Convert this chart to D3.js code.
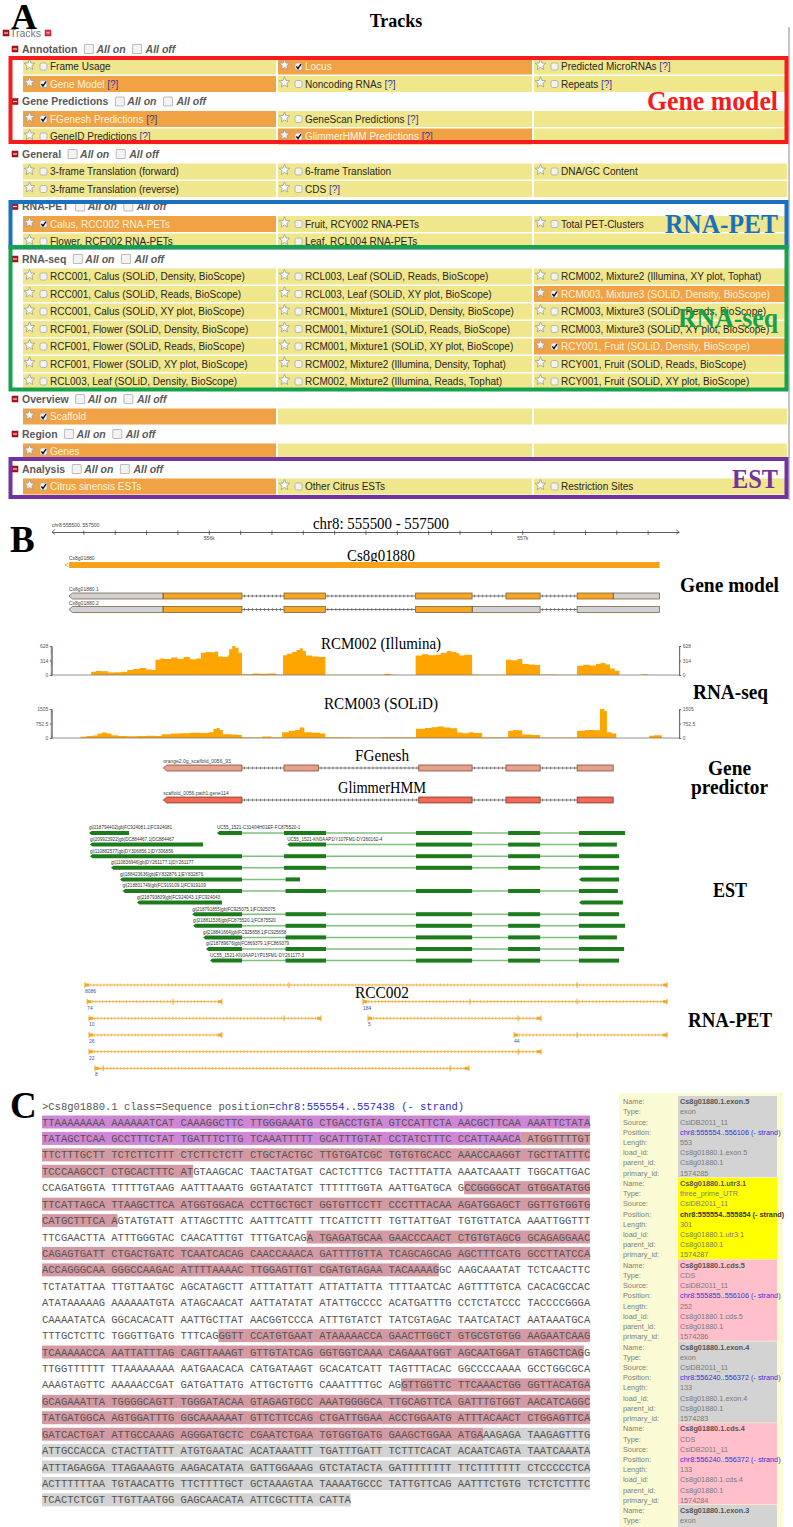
<!DOCTYPE html>
<html><head><meta charset="utf-8">
<script src="https://cdn.jsdelivr.net/npm/d3@7/dist/d3.min.js"></script>
<style>
html,body{margin:0;padding:0;background:#fff;}
svg{display:block;}
text{white-space:pre;}
</style></head>
<body>
<svg id="fig" width="793" height="1527" xmlns="http://www.w3.org/2000/svg"></svg>
<script>
// ================= DATA =================
// ---- Panel A : track selection table ----
const sectionNames = ["Annotation","Gene Predictions","General","RNA-PET","RNA-seq","Overview","Region","Analysis"];
// cell = [label, checked, hasHelp]; null = empty cell
const sectionRows = [
  [[["Frame Usage",0,0],["Locus",1,0],["Predicted MicroRNAs",0,1]],
   [["Gene Model",1,1],["Noncoding RNAs",0,1],["Repeats",0,1]]],
  [[["FGenesh Predictions",1,1],["GeneScan Predictions",0,1],null],
   [["GeneID Predictions",0,1],["GlimmerHMM Predictions",1,1],null]],
  [[["3-frame Translation (forward)",0,0],["6-frame Translation",0,0],["DNA/GC Content",0,0]],
   [["3-frame Translation (reverse)",0,0],["CDS",0,1],null]],
  [[["Calus, RCC002 RNA-PETs",1,0],["Fruit, RCY002 RNA-PETs",0,0],["Total PET-Clusters",0,0]],
   [["Flower, RCF002 RNA-PETs",0,0],["Leaf, RCL004 RNA-PETs",0,0],null]],
  [[["RCC001, Calus (SOLiD, Density, BioScope)",0,0],["RCL003, Leaf (SOLiD, Reads, BioScope)",0,0],["RCM002, Mixture2 (Illumina, XY plot, Tophat)",0,0]],
   [["RCC001, Calus (SOLiD, Reads, BioScope)",0,0],["RCL003, Leaf (SOLiD, XY plot, BioScope)",0,0],["RCM003, Mixture3 (SOLiD, Density, BioScope)",1,0]],
   [["RCC001, Calus (SOLiD, XY plot, BioScope)",0,0],["RCM001, Mixture1 (SOLiD, Density, BioScope)",0,0],["RCM003, Mixture3 (SOLiD, Reads, BioScope)",0,0]],
   [["RCF001, Flower (SOLiD, Density, BioScope)",0,0],["RCM001, Mixture1 (SOLiD, Reads, BioScope)",0,0],["RCM003, Mixture3 (SOLiD, XY plot, BioScope)",0,0]],
   [["RCF001, Flower (SOLiD, Reads, BioScope)",0,0],["RCM001, Mixture1 (SOLiD, XY plot, BioScope)",0,0],["RCY001, Fruit (SOLiD, Density, BioScope)",1,0]],
   [["RCF001, Flower (SOLiD, XY plot, BioScope)",0,0],["RCM002, Mixture2 (Illumina, Density, Tophat)",0,0],["RCY001, Fruit (SOLiD, Reads, BioScope)",0,0]],
   [["RCL003, Leaf (SOLiD, Density, BioScope)",0,0],["RCM002, Mixture2 (Illumina, Reads, Tophat)",0,0],["RCY001, Fruit (SOLiD, XY plot, BioScope)",0,0]]],
  [[["Scaffold",1,0],null,null]],
  [[["Genes",1,0],null,null]],
  [[["Citrus sinensis ESTs",1,0],["Other Citrus ESTs",0,0],["Restriction Sites",0,0]]]
];
const boxLabels = ["Gene model","RNA-PET","RNA-seq","EST"];
const boxColors = ["#f41c1c","#1b70bd","#16a24c","#7233a0"];
const boxSpans  = [[1,5],[9,11],[12,19],[24,25]];

// ---- Panel B : genome browser ----
const regionStart = 555500, regionEnd = 557500;
const rulerTicks  = [555600,555700,555800,555900,556000,556100,556200,556300,556400,556500,556600,556700,556800,556900,557000,557100,557200,557300,557400];
const rulerLabels = ["","","","","556k","","","","","","","","","","557k","","","",""];
const geneName = "Cs8g01880";
const geneSpan = [555554,557438];
const tx1Name = "Cs8g01880.1", tx2Name = "Cs8g01880.2";
const tx1Blocks = [[555554,555854],[555855,556106],[556240,556372],[556660,556840],[556948,557057],[557175,557290],[557291,557438]];
const tx1Kinds  = ["utr","cds","cds","cds","cds","cds","utr"];
const tx2Blocks = [[555554,555854],[555855,556106],[556240,556372],[556660,556840],[556841,557057],[557175,557438]];
const tx2Kinds  = ["utr","cds","cds","cds","utr","utr"];
const cov1Title = "RCM002 (Illumina)", cov1Max = 628, cov1Ticks = [0,314,628];
const cov1 = [[555500,0],[555625,70],[555640,85],[555660,80],[555680,55],[555700,60],[555720,70],[555740,110],[555760,130],[555780,150],[555800,120],[555820,110],[555830,330],[555845,360],[555860,345],[555880,380],[555900,350],[555920,390],[555940,340],[555960,360],[555975,480],[555990,500],[556005,490],[556020,510],[556030,400],[556045,390],[556060,420],[556065,560],[556075,628],[556085,590],[556095,480],[556106,15],[556140,30],[556160,25],[556190,30],[556215,10],[556237,430],[556250,460],[556265,500],[556280,540],[556290,580],[556300,520],[556310,420],[556330,400],[556350,390],[556372,5],[556390,5],[556560,25],[556580,5],[556600,0],[556660,420],[556680,450],[556700,430],[556720,440],[556740,480],[556760,520],[556775,500],[556790,470],[556800,420],[556815,440],[556840,10],[556860,5],[556900,5],[556948,330],[556965,320],[556985,345],[557000,240],[557020,230],[557040,215],[557057,10],[557070,10],[557110,8],[557150,5],[557175,200],[557195,220],[557215,205],[557235,240],[557250,260],[557265,230],[557280,140],[557295,90],[557310,0],[557380,15],[557400,0],[557500,0]];
const cov2Title = "RCM003 (SOLiD)", cov2Max = 1505, cov2Ticks = [0,752.5,1505];
const cov2 = [[555500,0],[555590,60],[555610,100],[555630,130],[555645,230],[555660,280],[555675,230],[555690,140],[555710,100],[555740,90],[555770,110],[555800,120],[555830,110],[555850,200],[555880,230],[555910,250],[555940,270],[555970,260],[556000,300],[556015,470],[556025,520],[556035,420],[556045,200],[556070,180],[556090,160],[556106,40],[556140,30],[556170,80],[556200,40],[556234,300],[556255,380],[556275,420],[556290,540],[556305,300],[556330,270],[556355,240],[556372,40],[556450,30],[556550,40],[556661,480],[556690,520],[556710,560],[556730,600],[556750,540],[556770,500],[556792,280],[556810,250],[556830,300],[556845,260],[556872,40],[556955,360],[556970,420],[556985,400],[557000,180],[557030,160],[557057,30],[557175,380],[557200,420],[557230,400],[557248,1505],[557262,1400],[557270,300],[557285,240],[557300,0],[557405,120],[557420,140],[557445,0],[557500,0]];
const fgTitle = "FGenesh", fgName = "orange2.0g_scaffold_0056_93";
const fgBlocks = [[555855,556106],[556240,556350],[556670,556840],[556948,557057],[557175,557290]];
const ghTitle = "GlimmerHMM", ghName = "scaffold_0056.path1.gene114";
const ghBlocks = [[555855,556106],[556670,556840],[556948,557057],[557175,557290]];
const estNames = ["gi|218794402|gb|FC924081.1|FC924081","UC55_1521-C31404H01EF-FC875520-1","gi|209923922|gb|DC884467.1|DC884467","UC55_1521-KN0AAP1IY107FM1-DY260162-4","gi|110882577|gb|DY306856.1|DY306856","gi|110836946|gb|DY261177.1|DY261177","gi|188423636|gb|EY832876.1|EY832876","","gi|218831749|gb|FC919109.1|FC919109","gi|218793809|gb|FC924043.1|FC924043","","gi|218791855|gb|FC925075.1|FC925075","gi|218811536|gb|FC875520.1|FC875520","gi|218841664|gb|FC925658.1|FC925658","gi|218789676|gb|FC869379.1|FC869379","UC55_1521-KN0AAP1YP15FM1-DY261177-3"];
const estRows  = [0,0,1,1,2,3,4,4,5,6,6,7,8,9,10,11];
const estBlocks = [
  [[555618,555746]],
  [[556026,556106],[556240,556374],[556661,556840],[556955,557057],[557181,557328]],
  [[555621,555982]],
  [[556250,556374],[556661,556840],[556955,557057],[557181,557302]],
  [[555621,556106],[556240,556374],[556661,556840],[556955,557057],[557181,557309]],
  [[555688,556106],[556240,556374],[556661,556840],[556955,557057],[557181,557309]],
  [[555717,556106],[556245,556291]],
  [[557181,557309]],
  [[555725,556106],[556245,556374],[556661,556840],[556955,557057],[557181,557305]],
  [[555771,556042]],
  [[557181,557321]],
  [[555947,556106],[556245,556374],[556661,556840],[556955,557057],[557181,557309]],
  [[555950,556106],[556245,556374],[556661,556840],[556955,557057],[557181,557328]],
  [[555982,556106],[556245,556374],[556661,556840],[556955,557057],[557181,557302]],
  [[555991,556106],[556245,556374],[556661,556840],[556955,557057],[557181,557325]],
  [[556004,556106],[556245,556374],[556661,556840],[556955,557057],[557181,557309]]
];
const petTitle = "RCC002";
const petCounts = ["8086","74","184","10","5","26","44","22","8"];
const petRows   = [0,1,1,2,2,3,3,4,5];
const petSpans  = [[555605,557462],[555612,556042],[556492,557462],[555618,556358],[556508,557060],[555618,556042],[556974,557462],[555618,557060],[555637,556830]];
const petMarks  = [[556256,557175],[555886],[556833,557175],[556240],[556987],[],[557175],[556987],[555663,556770]];
const sideLabelsB = ["Gene model","RNA-seq","Gene","predictor","EST","RNA-PET"];

// ---- Panel C : sequence and feature details ----
const seqHeader = ">Cs8g01880.1 class=Sequence position=";
const seqLink = "chr8:555554..557438 (- strand)";
const seqLines = [
"TTAAAAAAAA AAAAAATCAT CAAAGGCTTC TTGGGAAATG CTGACCTGTA GTCCATTCTA AACGCTTCAA AAATTCTATA",
"TATAGCTCAA GCCTTTCTAT TGATTTCTTG TCAAATTTTT GCATTTGTAT CCTATCTTTC CCATTAAACA ATGGTTTTGT",
"TTCTTTGCTT TCTCTTCTTT CTCTTCTCTT CTGCTACTGC TTGTGATCGC TGTGTGCACC AAACCAAGGT TGCTTATTTC",
"TCCCAAGCCT CTGCACTTTC ATGTAAGCAC TAACTATGAT CACTCTTTCG TACTTTATTA AAATCAAATT TGGCATTGAC",
"CCAGATGGTA TTTTTGTAAG AATTTAAATG GGTAATATCT TTTTTTGGTA AATTGATGCA GCCGGGGCAT GTGGATATGG",
"TTCATTAGCA TTAAGCTTCA ATGGTGGACA CCTTGCTGCT GGTGTTCCTT CCCTTTACAA AGATGGAGCT GGTTGTGGTG",
"CATGCTTTCA AGTATGTATT ATTAGCTTTC AATTTCATTT TTCATTCTTT TGTTATTGAT TGTGTTATCA AAATTGGTTT",
"TTCGAACTTA ATTTGGGTAC CAACATTTGT TTTGATCAGA TGAGATGCAA GAACCCAACT CTGTGTAGCG GCAGAGGAAC",
"CAGAGTGATT CTGACTGATC TCAATCACAG CAACCAAACA GATTTTGTTA TCAGCAGCAG AGCTTTCATG GCCTTATCCA",
"ACCAGGGCAA GGGCCAAGAC ATTTTAAAAC TTGGAGTTGT CGATGTAGAA TACAAAAGGC AAGCAAATAT TCTCAACTTC",
"TCTATATTAA TTGTTAATGC AGCATAGCTT ATTTATTATT ATTATTATTA TTTTAATCAC AGTTTTGTCA CACACGCCAC",
"ATATAAAAAG AAAAAATGTA ATAGCAACAT AATTATATAT ATATTGCCCC ACATGATTTG CCTCTATCCC TACCCCGGGA",
"CAAAATATCA GGCACACATT AATTGCTTAT AACGGTCCCA ATTTGTATCT TATCGTAGAC TAATCATACT AATAAATGCA",
"TTTGCTCTTC TGGGTTGATG TTTCAGGGTT CCATGTGAAT ATAAAAACCA GAACTTGGCT GTGCGTGTGG AAGAATCAAG",
"TCAAAAACCA AATTATTTAG CAGTTAAAGT GTTGTATCAG GGTGGTCAAA CAGAAATGGT AGCAATGGAT GTAGCTCAGG",
"TTGGTTTTTT TTAAAAAAAA AATGAACACA CATGATAAGT GCACATCATT TAGTTTACAC GGCCCCAAAA GCCTGGCGCA",
"AAAGTAGTTC AAAAACCGAT GATGATTATG ATTGCTGTTG CAAATTTTGC AGGTTGGTTC TTCAAACTGG GGTTACATGA",
"GCAGAAATTA TGGGGCAGTT TGGGATACAA GTAGAGTGCC AAATGGGGCA TTGCAGTTCA GATTTGTGGT AACATCAGGC",
"TATGATGGCA AGTGGATTTG GGCAAAAAAT GTTCTTCCAG CTGATTGGAA ACCTGGAATG ATTTACAACT CTGGAGTTCA",
"GATCACTGAT ATTGCCAAAG AGGGATGCTC CGAATCTGAA TGTGGTGATG GAAGCTGGAA ATGAAAGAGA TAAGAGTTTG",
"ATTGCCACCA CTACTTATTT ATGTGAATAC ACATAAATTT TGATTTGATT TCTTTCACAT ACAATCAGTA TAATCAAATA",
"ATTTAGAGGA TTAGAAAGTG AAGACATATA GATTGGAAAG GTCTATACTA GATTTTTTTT TTCTTTTTTT CTCCCCCTCA",
"ACTTTTTTAA TGTAACATTG TTCTTTTGCT GCTAAAGTAA TAAAATGCCC TATTGTTCAG AATTTCTGTG TCTCTCTTTC",
"TCACTCTCGT TTGTTAATGG GAGCAACATA ATTCGCTTTA CATTA"
];
const featStart = [0,150,381,599,1066,1332,1584];
const featEnd   = [150,262,491,778,1199,1584,1885];
const featKind  = ["utr5","cds","cds","cds","cds","cds","utr3"];
const infoFields = ["Name:","Type:","Source:","Position:","Length:","load_id:","parent_id:","primary_id:"];
const infoNames = ["Cs8g01880.1.exon.5","Cs8g01880.1.utr3.1","Cs8g01880.1.cds.5","Cs8g01880.1.exon.4","Cs8g01880.1.cds.4","Cs8g01880.1.exon.3"];
const infoTypes = ["exon","three_prime_UTR","CDS","exon","CDS","exon"];
const infoSource = "CsiDB2011_11";
const infoPositions = ["chr8:555554..556106 (- strand)","chr8:555554..555854 (- strand)","chr8:555855..556106 (- strand)","chr8:556240..556372 (- strand)","chr8:556240..556372 (- strand)",""];
const infoLengths = ["553","301","252","133","133",""];
const infoParent = "Cs8g01880.1";
const infoPrimary = ["1574285","1574287","1574286","1574283","1574284",""];
const infoKind = ["exon","utr","cds","exon","cds","exon"];

// ================= DRAWING =================
const svg = d3.select("#fig");
const SERIF = "'Liberation Serif','Times New Roman',Times,serif";
const SANS = "'Liberation Sans',Arial,Helvetica,sans-serif";
const MONO = "'Liberation Mono','Courier New',monospace";

function txt(g, x, y, s, o) {
  o = o || {};
  const t = g.append("text").attr("x", x).attr("y", y).text(s)
    .attr("font-family", o.ff || SANS).attr("font-size", o.fs || 10).attr("fill", o.fill || "#000");
  if (o.fw) t.attr("font-weight", o.fw);
  if (o.fst) t.attr("font-style", o.fst);
  if (o.anchor) t.attr("text-anchor", o.anchor);
  if (o.len) t.attr("textLength", o.len).attr("lengthAdjust", "spacingAndGlyphs");
  return t;
}

// ---------- Panel A ----------
const gA = svg.append("g");
const YELLOW = "#f0e68c", ORANGE = "#f0a244";
const lineY = i => 49 + 17.5 * i;
const colX = [23, 278, 534], colW = [253, 254, 253];

function minusIcon(g, x, y) {
  g.append("rect").attr("x", x).attr("y", y - 3).attr("width", 6).attr("height", 6).attr("fill", "#b5121b").attr("stroke", "#7a0a10").attr("stroke-width", 0.5);
  g.append("rect").attr("x", x + 1).attr("y", y - 0.6).attr("width", 4).attr("height", 1.2).attr("fill", "#f7c9cc");
}
function checkBox(g, x, y, s, on) {
  g.append("rect").attr("x", x).attr("y", y - s / 2).attr("width", s).attr("height", s).attr("rx", s > 8 ? 0.5 : 1.8)
    .attr("fill", "#f3f3f3").attr("stroke", "#a9a9a9").attr("stroke-width", 0.8);
  if (on) g.append("path").attr("d", `M${x+1.4},${y} L${x+3},${y+2} L${x+6},${y-2.4}`).attr("fill", "none").attr("stroke", "#111").attr("stroke-width", 1.4);
}
function starPath(cx, cy, R, r) {
  let p = "";
  for (let k = 0; k < 10; k++) {
    const a = -Math.PI / 2 + k * Math.PI / 5, rr = k % 2 ? r : R;
    p += (k ? "L" : "M") + (cx + rr * Math.cos(a)).toFixed(2) + "," + (cy + rr * Math.sin(a)).toFixed(2);
  }
  return p + "Z";
}

txt(gA, 11, 29, "A", {ff: SERIF, fs: 36, fw: "bold"});
txt(gA, 396, 27, "Tracks", {ff: SERIF, fs: 18, fw: "bold", anchor: "middle"});
gA.append("line").attr("x1", 789).attr("x2", 789).attr("y1", 27).attr("y2", 500).attr("stroke", "#c4c4c4").attr("stroke-width", 2);
minusIcon(gA, 3, 33);
txt(gA, 10, 36.5, "Tracks", {fs: 10.5, fill: "#777"});
gA.append("rect").attr("x", 45).attr("y", 30).attr("width", 6).attr("height", 6).attr("fill", "#d83848").attr("stroke", "#9a1020").attr("stroke-width", 0.5);
gA.append("path").attr("d", "M46.5,31.8 L48,33.6 L49.5,31.8").attr("fill", "none").attr("stroke", "#fff").attr("stroke-width", 0.8);

let li = 0;
sectionNames.forEach((name, si) => {
  const y = lineY(li++);
  minusIcon(gA, 12, y);
  const ht = txt(gA, 22, y + 3.6, name, {fs: 10.5, fw: "bold", fill: "#5a5a5a"});
  let xx = 22 + ht.node().getComputedTextLength() + 7;
  checkBox(gA, xx, y, 9, false);
  const t1 = txt(gA, xx + 12, y + 3.8, "All on", {fs: 10.5, fw: "bold", fst: "italic", fill: "#5a5a5a"});
  xx = xx + 12 + t1.node().getComputedTextLength() + 7;
  checkBox(gA, xx, y, 9, false);
  txt(gA, xx + 13, y + 3.8, "All off", {fs: 10.5, fw: "bold", fst: "italic", fill: "#5a5a5a"});
  sectionRows[si].forEach(row => {
    const ry = lineY(li++);
    row.forEach((cell, c) => {
      const on = cell && cell[1];
      gA.append("rect").attr("x", colX[c]).attr("y", ry - 8).attr("width", colW[c]).attr("height", 16).attr("fill", on ? ORANGE : YELLOW);
      if (!cell) return;
      gA.append("path").attr("d", starPath(colX[c] + 6.5, ry - 1.5, 5.6, 2.5)).attr("fill", on ? "#f4f1ea" : "#fbfbf6").attr("stroke", "#9a9a9a").attr("stroke-width", 0.8);
      checkBox(gA, colX[c] + 17, ry, 7, on);
      const t = gA.append("text").attr("x", colX[c] + 27).attr("y", ry + 3.6).attr("font-family", SANS).attr("font-size", 10);
      t.append("tspan").attr("fill", on ? "#fff4dc" : "#262626").text(cell[0]);
      if (cell[2]) t.append("tspan").attr("fill", "#3d3aa6").text(" [?]");
    });
  });
});

const padTop = [8.5, 4.5, 12, 10], padBot = [5.5, 6, 8, 10.5];
const labelBase = [110, 233, 327, 488], labelLen = [131, 113, 100, 46];
boxLabels.forEach((lab, k) => {
  const y0 = lineY(boxSpans[k][0]) - padTop[k], y1 = lineY(boxSpans[k][1]) + padBot[k];
  gA.append("rect").attr("x", 10.5).attr("y", y0).attr("width", 776).attr("height", y1 - y0)
    .attr("fill", "none").attr("stroke", boxColors[k]).attr("stroke-width", 4);
  txt(gA, 778, labelBase[k], lab, {ff: SERIF, fs: 27, fw: "bold", fill: boxColors[k], anchor: "end", len: labelLen[k]});
});

// ---------- Panel B ----------
const gB = svg.append("g");
const x = d3.scaleLinear().domain([regionStart, regionEnd]).range([52, 679]);
txt(gB, 10, 552, "B", {ff: SERIF, fs: 37, fw: "bold"});
txt(gB, 52, 527, "chr8:555500..557500", {fs: 5, fill: "#444"});
txt(gB, 381, 529, "chr8: 555500 - 557500", {ff: SERIF, fs: 17, anchor: "middle", len: 136});
const rul = gB.append("g").attr("transform", "translate(0,532)").attr("color", "#333")
  .call(d3.axisBottom(x).tickValues(rulerTicks).tickSize(3).tickSizeOuter(0).tickFormat(d => rulerLabels[rulerTicks.indexOf(d)]));
rul.select(".domain").attr("stroke-width", 0.8);
rul.selectAll(".tick line").attr("y1", -1.5).attr("stroke-width", 0.7);
rul.selectAll("text").attr("font-size", 5).attr("font-family", SANS).attr("fill", "#444").attr("y", 4);
gB.append("path").attr("d", `M${x(regionStart)+3},529.5 L${x(regionStart)},532 L${x(regionStart)+3},534.5`).attr("fill", "none").attr("stroke", "#333").attr("stroke-width", 0.7);
gB.append("path").attr("d", `M${x(regionEnd)-3},529.5 L${x(regionEnd)},532 L${x(regionEnd)-3},534.5`).attr("fill", "none").attr("stroke", "#333").attr("stroke-width", 0.7);

// gene
txt(gB, x(geneSpan[0]), 560, geneName, {fs: 5, fill: "#444"});
txt(gB, 381, 561, geneName, {ff: SERIF, fs: 16, anchor: "middle", len: 68});
gB.append("rect").attr("x", x(geneSpan[0])).attr("y", 562).attr("width", x(geneSpan[1]) - x(geneSpan[0])).attr("height", 6).attr("fill", "#f7a21a");
gB.append("path").attr("d", `M${x(geneSpan[0])-1},563.5 L${x(geneSpan[0])-4},565 L${x(geneSpan[0])-1},566.5`).attr("fill", "none").attr("stroke", "#f7a21a").attr("stroke-width", 0.8);

function drawIntron(g, xa, xb, y) {
  g.append("line").attr("x1", xa).attr("x2", xb).attr("y1", y).attr("y2", y).attr("stroke", "#444").attr("stroke-width", 0.7);
  for (let xx = xa + 2.5; xx < xb - 1; xx += 4)
    g.append("line").attr("x1", xx).attr("x2", xx).attr("y1", y - 1.4).attr("y2", y + 1.4).attr("stroke", "#444").attr("stroke-width", 0.6);
}
function drawModel(g, blocks, kinds, yTop, h, fills, stroke) {
  for (let k = 1; k < blocks.length; k++) {
    const a = blocks[k - 1][1], b = blocks[k][0];
    if (b - a > 1) drawIntron(g, x(a), x(b), yTop + h / 2);
  }
  blocks.forEach((bk, k) => {
    const x0 = x(bk[0]), x1 = x(bk[1]);
    const f = fills[kinds[k]];
    if (k === 0) {
      g.append("path").attr("d", `M${x0},${yTop + h / 2} L${x0 + 3.5},${yTop} L${x1},${yTop} L${x1},${yTop + h} L${x0 + 3.5},${yTop + h} Z`)
        .attr("fill", f).attr("stroke", stroke).attr("stroke-width", 0.7);
    } else {
      g.append("rect").attr("x", x0).attr("y", yTop).attr("width", x1 - x0).attr("height", h).attr("fill", f).attr("stroke", stroke).attr("stroke-width", 0.7);
    }
  });
}
const txFills = {utr: "#d2d2d2", cds: "#f5a623"};
txt(gB, x(geneSpan[0]), 591, tx1Name, {fs: 5, fill: "#444"});
drawModel(gB, tx1Blocks, tx1Kinds, 593, 6, txFills, "#6b5230");
txt(gB, x(geneSpan[0]), 604.5, tx2Name, {fs: 5, fill: "#444"});
drawModel(gB, tx2Blocks, tx2Kinds, 606.5, 6, txFills, "#6b5230");

function drawCoverage(g, title, titleLen, titleBase, pairs, maxV, ticks, yBase, yTop) {
  txt(g, 381, titleBase, title, {ff: SERIF, fs: 16, anchor: "middle", len: titleLen});
  const y = d3.scaleLinear().domain([0, maxV]).range([yBase, yTop]);
  const area = d3.area().curve(d3.curveStepAfter).x(d => x(d[0])).y0(yBase).y1(d => y(d[1]));
  g.append("path").datum(pairs).attr("d", area).attr("fill", "#ffa500");
  g.append("line").attr("x1", 52).attr("x2", 679).attr("y1", yBase).attr("y2", yBase).attr("stroke", "#777").attr("stroke-width", 0.8);
  [[52, d3.axisLeft], [679, d3.axisRight]].forEach(([ax, fn]) => {
    const minor = g.append("g").attr("transform", `translate(${ax},0)`).attr("color", "#777")
      .call(fn(y).ticks(25).tickSize(1.2).tickFormat(""));
    minor.select(".domain").remove();
    const major = g.append("g").attr("transform", `translate(${ax},0)`).attr("color", "#666")
      .call(fn(y).tickValues(ticks).tickSize(2.2).tickSizeOuter(0).tickPadding(1.5).tickFormat(d => String(d)));
    major.select(".domain").attr("stroke-width", 0.7);
    major.selectAll("text").attr("font-size", 5).attr("font-family", SANS).attr("fill", "#555");
  });
}
drawCoverage(gB, cov1Title, 120, 649, cov1, cov1Max, cov1Ticks, 675, 646);
drawCoverage(gB, cov2Title, 114, 709, cov2, cov2Max, cov2Ticks, 738, 709);

// predictors
txt(gB, 382, 761, fgTitle, {ff: SERIF, fs: 16, anchor: "middle", len: 54});
txt(gB, x(fgBlocks[0][0]), 763, fgName, {fs: 5, fill: "#444"});
drawModel(gB, fgBlocks, fgBlocks.map(() => "p"), 765, 6, {p: "#e9a08b"}, "#6e3a28");
txt(gB, 382, 793, ghTitle, {ff: SERIF, fs: 16, anchor: "middle", len: 88});
txt(gB, x(ghBlocks[0][0]), 795, ghName, {fs: 5, fill: "#444"});
drawModel(gB, ghBlocks, ghBlocks.map(() => "p"), 797, 6, {p: "#f06a55"}, "#6e2a1e");

// ESTs
estBlocks.forEach((blocks, k) => {
  const yc = 833 + estRows[k] * 11.6;
  const last = blocks[blocks.length - 1];
  if (blocks.length > 1)
    gB.append("line").attr("x1", x(blocks[0][1])).attr("x2", x(last[0])).attr("y1", yc).attr("y2", yc).attr("stroke", "#80bf80").attr("stroke-width", 1.5);
  blocks.forEach((b, j) => {
    const x0 = x(b[0]), x1 = x(b[1]);
    if (j === 0) gB.append("path").attr("d", `M${x0},${yc} L${x0 + 2.5},${yc - 2} L${x1},${yc - 2} L${x1},${yc + 2} L${x0 + 2.5},${yc + 2} Z`).attr("fill", "#1c7c1c");
    else gB.append("rect").attr("x", x0).attr("y", yc - 2).attr("width", x1 - x0).attr("height", 4).attr("fill", "#1c7c1c");
  });
  if (estNames[k]) txt(gB, x(blocks[0][0]), yc - 3.6, estNames[k], {fs: 4.6, fill: "#333"});
});

// RNA-PETs
txt(gB, 382, 998, petTitle, {ff: SERIF, fs: 16, anchor: "middle", len: 54});
const PET = "#f4a62a";
petSpans.forEach((sp, k) => {
  const yc = 985 + petRows[k] * 16.67;
  const xa = x(sp[0]), xb = x(sp[1]);
  gB.append("line").attr("x1", xa).attr("x2", xb).attr("y1", yc).attr("y2", yc).attr("stroke", PET).attr("stroke-width", 0.9);
  for (let xx = xa + 2; xx < xb - 1; xx += 3.4)
    gB.append("line").attr("x1", xx).attr("x2", xx).attr("y1", yc - 1.6).attr("y2", yc + 1.6).attr("stroke", PET).attr("stroke-width", 0.6);
  [xa, xb].concat(petMarks[k].map(m => x(m))).forEach(mx =>
    gB.append("line").attr("x1", mx).attr("x2", mx).attr("y1", yc - 3).attr("y2", yc + 3).attr("stroke", PET).attr("stroke-width", 1));
  gB.append("rect").attr("x", xa).attr("y", yc - 1.5).attr("width", 4).attr("height", 3).attr("fill", PET);
  gB.append("rect").attr("x", xb - 4).attr("y", yc - 1.5).attr("width", 4).attr("height", 3).attr("fill", PET);
  txt(gB, xa, yc + 8, petCounts[k], {fs: 5, fill: "#3a56b0"});
});

// side labels
const sideX = [680, 693, 708, 691, 713, 688], sideBase = [592, 699, 775, 794, 897, 1027], sideLen = [99, 75, 43, 77, 34, 84];
sideLabelsB.forEach((s, k) => txt(gB, sideX[k], sideBase[k], s, {ff: SERIF, fs: 20, fw: "bold", len: sideLen[k]}));

// ---------- Panel C ----------
const gC = svg.append("g");
txt(gC, 10, 1118, "C", {ff: SERIF, fs: 37, fw: "bold"});
const sx0 = 42, cw = 6.3, ly0 = 1122, ldy = 16.43;
const hdr = gC.append("text").attr("x", sx0).attr("y", 1109.6).attr("font-family", MONO).attr("font-size", 10.5);
hdr.append("tspan").attr("fill", "#555").text(seqHeader);
hdr.append("tspan").attr("fill", "#2b2bd0").text(seqLink);
const featColor = {utr5: "#d086d6", cds: "#d49aa3", utr3: "#d3d3d3"};
seqLines.forEach((line, L) => {
  const base = L * 80, n = line.replace(/ /g, "").length, yc = ly0 + L * ldy;
  featStart.forEach((s, k) => {
    const a = Math.max(s, base), b = Math.min(featEnd[k], base + n);
    if (b <= a) return;
    const i0 = a - base, i1 = b - base;
    let xa = sx0 + (i0 + Math.floor(i0 / 10)) * cw;
    if (i0 > 0 && i0 % 10 === 0 && featEnd.indexOf(a) >= 0) xa -= cw;
    const xb = sx0 + (i1 - 1 + Math.floor((i1 - 1) / 10)) * cw + cw;
    gC.append("rect").attr("x", xa).attr("y", yc - 6.5).attr("width", xb - xa).attr("height", 13).attr("fill", featColor[featKind[k]]);
  });
  txt(gC, sx0, yc + 3.6, line, {ff: MONO, fs: 10.5, fill: "#545454"});
});

// info panel
gC.append("rect").attr("x", 619).attr("y", 1093).attr("width", 164).attr("height", 440).attr("fill", "#fafad4");
const infoColor = {exon: "#d3d3d3", utr: "#ffff00", cds: "#ffc0cb"};
const boxH = 81.8, rowH = 10.2;
infoNames.forEach((nm, k) => {
  const top = 1096 + k * boxH;
  gC.append("rect").attr("x", 678).attr("y", top).attr("width", 99).attr("height", boxH - 0.6).attr("fill", infoColor[infoKind[k]]);
  const vals = [nm, infoTypes[k], infoSource, infoPositions[k], infoLengths[k], nm, infoParent, infoPrimary[k]];
  infoFields.forEach((f, j) => {
    const yy = top + 5.5 + j * rowH + 2.6;
    if (yy > 1525) return;
    txt(gC, 623, yy, f, {fs: 7.3, fill: "#808080"});
    const o = {fs: 7.3, fill: "#7a7a7a"};
    if (j === 0) { o.fw = "bold"; o.fill = "#555"; }
    if (j === 3) { o.fill = infoKind[k] === "utr" ? "#333" : "#3434d4"; if (infoKind[k] === "utr") o.fw = "bold"; }
    txt(gC, 680, yy, vals[j], o);
  });
});
</script>
</body></html>
